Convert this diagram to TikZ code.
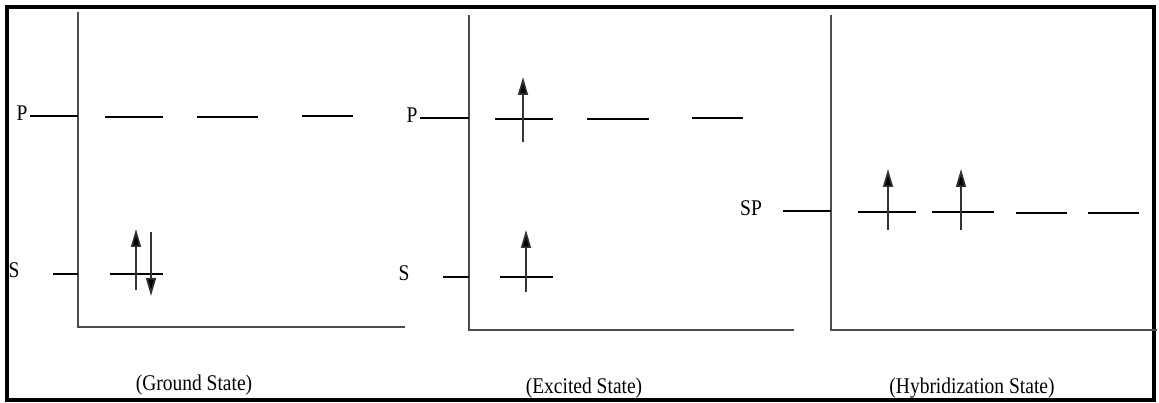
\documentclass[tikz,border=0pt]{standalone}
\usepackage{fontspec}
\setmainfont{Liberation Serif}
\usetikzlibrary{arrows.meta}
\begin{document}
\begin{tikzpicture}[x=1pt,y=-1pt,
  frame/.style={line width=4pt, draw=black},
  axis/.style={line width=1.8pt, draw=black!70},
  level/.style={line width=1.9pt, draw=black},
  spin/.style={line width=1.7pt, draw=black!80, -{Triangle[length=18pt,width=10pt,fill=black]}},
  lab/.style={font=\fontsize{19.5}{22}\selectfont, inner sep=0pt, text=black},
]
\useasboundingbox (0,0) rectangle (1159,403);
\draw[frame] (6.5,7) rectangle (1154,400);

% ---------------- Panel 1: Ground State ----------------
\coordinate (g-top) at (78,12);
\coordinate (g-org) at (78,327);
\coordinate (g-end) at (405,327);
\draw[axis] (g-top) -- (g-org) -- (g-end);
\node[lab] (gP) at (22,113) {\scalebox{1}[1.15]{P}};
\node[lab] (gS) at (14,270) {\scalebox{1}[1.15]{S}};
\coordinate (gPt) at (30,116);
\coordinate (gPa) at (78,116);
\draw[level] (gPt) -- (gPa);
\coordinate (gSt) at (53,274);
\coordinate (gSa) at (78,274);
\draw[level] (gSt) -- (gSa);
\draw[level] (105,117) -- (163,117);
\draw[level] (197,117) -- (258,117);
\draw[level] (302,116) -- (353,116);
\draw[level] (110,274) -- (163,274);
\draw[spin] (136,290) -- (136,229);
\draw[spin] (151,232) -- (151,296);
\node[lab] (gL) at (194,385) {\scalebox{1}[1.15]{(Ground State)}};

% ---------------- Panel 2: Excited State ----------------
\coordinate (e-top) at (469,15);
\coordinate (e-org) at (469,330);
\coordinate (e-end) at (794,330);
\draw[axis] (e-top) -- (e-org) -- (e-end);
\node[lab] (eP) at (412,115) {\scalebox{1}[1.15]{P}};
\node[lab] (eS) at (404,273) {\scalebox{1}[1.15]{S}};
\draw[level] (420,118) -- (469,118);
\draw[level] (443,277) -- (469,277);
\draw[level] (495,119) -- (553,119);
\draw[level] (587,119) -- (649,119);
\draw[level] (692,118) -- (743,118);
\draw[level] (500,277) -- (553,277);
\draw[spin] (523,142) -- (523,77);
\draw[spin] (526,292) -- (526,230);
\node[lab] (eL) at (584,388) {\scalebox{1}[1.15]{(Excited State)}};

% ---------------- Panel 3: Hybridization State ----------------
\coordinate (h-top) at (831,15);
\coordinate (h-org) at (831,330);
\coordinate (h-end) at (1157,330);
\draw[axis] (h-top) -- (h-org) -- (h-end);
\node[lab] (hSP) at (751,208) {\scalebox{1}[1.15]{SP}};
\draw[level] (783,211) -- (831,211);
\draw[level] (858,212) -- (916,212);
\draw[level] (932,212) -- (994,212);
\draw[level] (1016,213) -- (1067,213);
\draw[level] (1088,213) -- (1139,213);
\draw[spin] (888,230) -- (888,169);
\draw[spin] (961,230) -- (961,169);
\node[lab] (hL) at (972,388) {\scalebox{1}[1.15]{(Hybridization State)}};
\end{tikzpicture}
\end{document}
